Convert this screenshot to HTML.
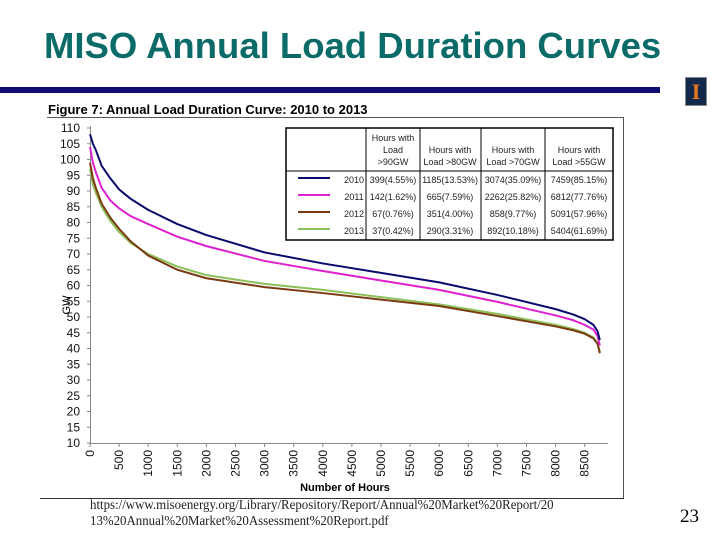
<!DOCTYPE html>
<html><head><meta charset="utf-8"><style>
body{margin:0;width:720px;height:540px;background:#fff;position:relative;overflow:hidden;font-family:"Liberation Sans",sans-serif}
.t{position:absolute}
</style></head><body>
<div class="t" style="left:44px;top:25px;font-size:36.5px;font-weight:bold;color:#0b6b68;white-space:nowrap">MISO Annual Load Duration Curves</div>
<div class="t" style="left:0;top:87px;width:660px;height:6px;background:#0d0d75"></div>
<div class="t" style="left:685px;top:77px;width:20px;height:27px;background:#13294b;border:1px solid #888;color:#e87722;font:bold 22px 'Liberation Serif',serif;text-align:center;line-height:27px">I</div>
<svg class="t" style="left:0;top:0" width="720" height="540">
<text x="48" y="114" font-size="13" font-weight="bold" font-family="Liberation Sans">Figure 7: Annual Load Duration Curve: 2010 to 2013</text>
<line x1="47" y1="117.5" x2="624" y2="117.5" stroke="#555"/>
<line x1="623.5" y1="117" x2="623.5" y2="498" stroke="#555"/>
<line x1="40" y1="498.5" x2="624" y2="498.5" stroke="#333"/>
<g id="axes"></g><g id="lines"></g>
<text x="345" y="491" font-size="11" font-weight="bold" text-anchor="middle">Number of Hours</text>
<text x="0" y="0" font-size="11" transform="translate(70,305) rotate(-90)" text-anchor="middle">GW</text>
<g font-size="9" fill="#222" text-anchor="middle">
<rect x="286" y="128" width="327" height="112" fill="#fff" stroke="#000" stroke-width="1.5"/>
<line x1="366" y1="128" x2="366" y2="240" stroke="#000"/>
<line x1="420" y1="128" x2="420" y2="240" stroke="#000"/>
<line x1="481" y1="128" x2="481" y2="240" stroke="#000"/>
<line x1="545" y1="128" x2="545" y2="240" stroke="#000"/>
<line x1="286" y1="171" x2="613" y2="171" stroke="#000"/>
<text x="393" y="141">Hours with</text><text x="393" y="153">Load</text><text x="393" y="165">&gt;90GW</text>
<text x="450" y="153">Hours with</text><text x="450" y="165">Load &gt;80GW</text>
<text x="513" y="153">Hours with</text><text x="513" y="165">Load &gt;70GW</text>
<text x="579" y="153">Hours with</text><text x="579" y="165">Load &gt;55GW</text>
<line x1="298" y1="178" x2="330" y2="178" stroke="#0a0a6e" stroke-width="2"/>
<line x1="298" y1="195" x2="330" y2="195" stroke="#e020d0" stroke-width="2"/>
<line x1="298" y1="212" x2="330" y2="212" stroke="#7b3a12" stroke-width="2"/>
<line x1="298" y1="229" x2="330" y2="229" stroke="#8cc05a" stroke-width="2"/>
<text x="354" y="183">2010</text><text x="393" y="183">399(4.55%)</text><text x="450" y="183">1185(13.53%)</text><text x="513" y="183">3074(35.09%)</text><text x="579" y="183">7459(85.15%)</text>
<text x="354" y="200">2011</text><text x="393" y="200">142(1.62%)</text><text x="450" y="200">665(7.59%)</text><text x="513" y="200">2262(25.82%)</text><text x="579" y="200">6812(77.76%)</text>
<text x="354" y="217">2012</text><text x="393" y="217">67(0.76%)</text><text x="450" y="217">351(4.00%)</text><text x="513" y="217">858(9.77%)</text><text x="579" y="217">5091(57.96%)</text>
<text x="354" y="234">2013</text><text x="393" y="234">37(0.42%)</text><text x="450" y="234">290(3.31%)</text><text x="513" y="234">892(10.18%)</text><text x="579" y="234">5404(61.69%)</text>
</g>
</svg>
<div class="t" style="left:90px;top:498px;font:14px/16px 'Liberation Serif',serif;color:#222;transform:scaleX(0.92);transform-origin:left">https://www.misoenergy.org/Library/Repository/Report/Annual%20Market%20Report/20<br>13%20Annual%20Market%20Assessment%20Report.pdf</div>
<div class="t" style="left:680px;top:506px;font:19px 'Liberation Serif',serif">23</div>
<script>
const hours=[0,50,100,200,350,500,700,1000,1500,2000,3000,4000,5000,6000,7000,8000,8300,8500,8650,8720,8760];
const s2010=[108,105,103,98,94,90.5,87.5,84,79.5,76,70.5,67,64,61,57,52.5,50.8,49.3,47.5,45.5,42.7];
const s2011=[104,99,96,91,87,84.5,82,79.5,75.5,72.5,67.8,64.6,61.6,58.6,54.8,50.5,49,47.5,46,44,41];
const s2012=[99,94,91,86,81.5,78,74,69.5,65,62.3,59.5,57.6,55.5,53.5,50.3,47,45.8,44.7,43.2,41.5,38.5];
const s2013=[97,92,89.5,85,80.5,77,73.5,70,66,63.3,60.5,58.6,56.3,54,51,47.5,46.2,45,43.5,41.8,39];
const yTicks=[10,15,20,25,30,35,40,45,50,55,60,65,70,75,80,85,90,95,100,105,110];
const xTicks=[0,500,1000,1500,2000,2500,3000,3500,4000,4500,5000,5500,6000,6500,7000,7500,8000,8500];
const NS="http://www.w3.org/2000/svg";
const X=h=>90+h*0.0582, Y=v=>443-(v-10)*3.15;
function mk(t,a,p){const e=document.createElementNS(NS,t);for(const k in a)e.setAttribute(k,a[k]);p.appendChild(e);return e;}
const ax=document.getElementById('axes');
let l=mk('line',{x1:90.5,y1:126,x2:90.5,y2:443,stroke:'#888'},ax);


l=mk('line',{x1:90,y1:443.5,x2:608,y2:443.5,stroke:'#888'},ax);


yTicks.forEach(v=>{const y=Y(v);mk('line',{x1:87,x2:90,y1:y,y2:y,stroke:'#888'},ax);
const t=mk('text',{x:80,y:y+4,'font-size':12,'text-anchor':'end',fill:'#111'},ax);t.textContent=v;

});
xTicks.forEach(v=>{const x=X(v);mk('line',{x1:x,x2:x,y1:443,y2:447,stroke:'#888'},ax);
const t=mk('text',{x:0,y:0,'font-size':12,'text-anchor':'end',fill:'#111',transform:`translate(${x+4},${450}) rotate(-90)`},ax);t.textContent=v;

});
const lg=document.getElementById('lines');
[[s2013,'#8cc05a','2013'],[s2012,'#7b3a12','2012'],[s2011,'#e020d0','2011'],[s2010,'#0a0a6e','2010']].forEach(([s,c,n])=>{
const p=mk('polyline',{points:hours.map((h,i)=>X(h)+','+Y(s[i])).join(' '),fill:'none',stroke:c,'stroke-width':2,'stroke-linejoin':'round'},lg);

});
</script>
</body></html>
